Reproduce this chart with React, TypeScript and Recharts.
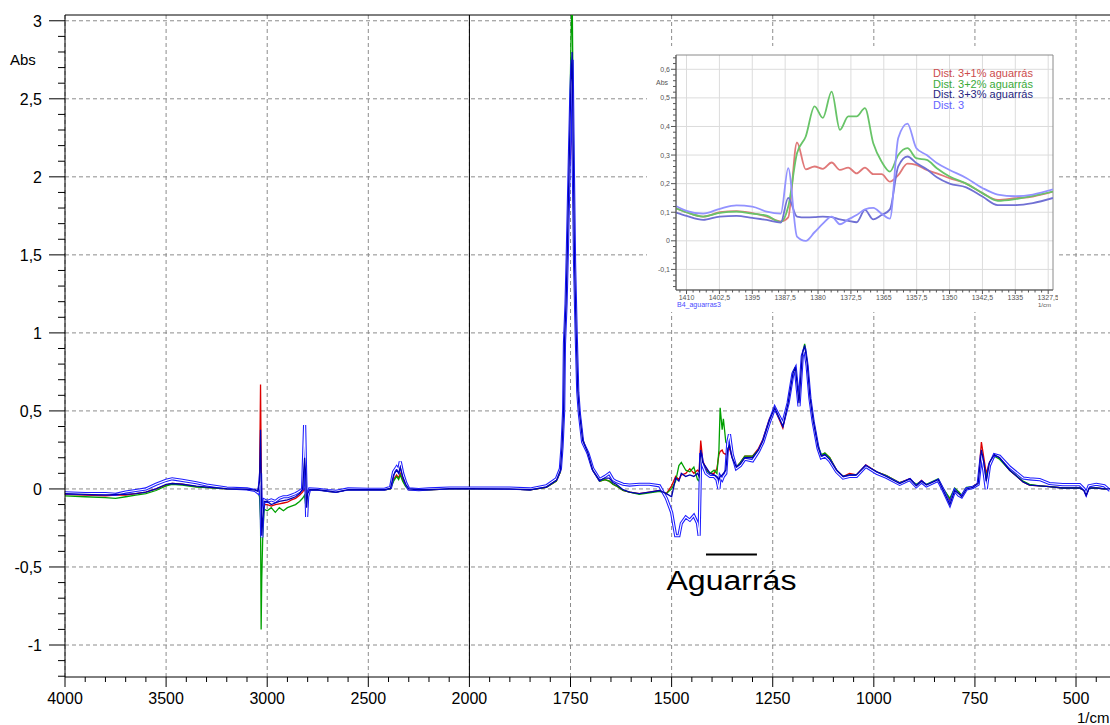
import React from 'react';
import {
  CartesianGrid,
  Line,
  LineChart,
  ReferenceArea,
  ReferenceLine,
  XAxis,
  YAxis,
} from 'recharts';

// Main FTIR spectrum, wavenumbers in 1/cm (descending)
const wavenumbers = [
  4000, 3900, 3800, 3750, 3700, 3650, 3600, 3550, 3500, 3470,
  3420, 3350, 3300, 3200, 3100, 3060, 3045, 3038, 3033, 3030,
  3027, 3022, 3015, 3000, 2980, 2960, 2940, 2920, 2900, 2880,
  2860, 2840, 2825, 2815, 2810, 2805, 2800, 2790, 2750, 2700,
  2660, 2600, 2500, 2420, 2390, 2375, 2360, 2350, 2342, 2330,
  2315, 2300, 2250, 2200, 2100, 2000, 1900, 1850, 1810, 1785,
  1775, 1771, 1767, 1765, 1761, 1758, 1753, 1749, 1746, 1743,
  1740, 1736, 1732, 1728, 1720, 1707, 1695, 1678, 1665, 1654,
  1645, 1637, 1620, 1604, 1580, 1555, 1530, 1513, 1500, 1490,
  1482, 1476, 1465, 1455, 1445, 1436, 1432, 1428, 1423, 1415,
  1405, 1395, 1388, 1383, 1380, 1375, 1372, 1366, 1361, 1357,
  1350, 1340, 1330, 1319, 1300, 1285, 1274, 1258, 1245, 1233,
  1225, 1212, 1200, 1194, 1185, 1177, 1171, 1165, 1158, 1150,
  1138, 1130, 1121, 1109, 1092, 1076, 1060, 1043, 1020, 993,
  969, 936, 911, 895, 882, 870, 841, 828, 812, 800,
  790, 783, 771, 755, 742, 734, 728, 722, 714, 702,
  689, 664, 631, 615, 590, 566, 533, 491, 480, 475,
  468, 450, 430, 416,
];

// Dist. 3+1% aguarrás
const dist3p1 = [
  -0.035, -0.04, -0.045, -0.04, -0.04, -0.03, -0.02, 0.0, 0.025, 0.035,
  0.03, 0.015, 0.01, 0.0, -0.003, -0.01, -0.02, 0.05, 0.67, 0.2,
  -0.15, -0.2, -0.1, -0.1, -0.11, -0.1, -0.095, -0.09, -0.085, -0.07,
  -0.06, -0.04, -0.02, 0.0, -0.02, -0.1, -0.02, -0.005, -0.005, -0.015,
  -0.02, -0.005, -0.005, -0.005, 0.0, 0.06, 0.09, 0.07, 0.1, 0.06,
  0.02, -0.005, -0.008, -0.005, 0.0, 0.0, 0.0, -0.005, 0.01, 0.05,
  0.11, 0.26, 0.5, 0.92, 1.18, 1.5, 2.05, 2.3, 2.2, 1.9,
  1.4, 0.98, 0.64, 0.5, 0.32, 0.22, 0.12, 0.05, 0.06, 0.05,
  0.03, 0.02, -0.01, -0.02, -0.03, -0.02, -0.01, -0.03, 0.02, 0.08,
  0.06, 0.09, 0.1, 0.13, 0.1, 0.12, 0.11, 0.31, 0.18, 0.13,
  0.1, 0.1, 0.13, 0.22, 0.24, 0.25, 0.23, 0.22, 0.25, 0.26,
  0.2, 0.14, 0.17, 0.21, 0.21, 0.26, 0.32, 0.45, 0.51, 0.44,
  0.39, 0.55, 0.74, 0.77, 0.55, 0.85, 0.91, 0.8, 0.59, 0.44,
  0.27, 0.21, 0.23, 0.2, 0.12, 0.08, 0.1, 0.09, 0.155, 0.11,
  0.085, 0.04, 0.065, 0.025, 0.055, 0.025, 0.06, 0.0, -0.07, 0.0,
  -0.02, -0.045, 0.005, 0.015, 0.04, 0.3, 0.2, 0.1, 0.17, 0.22,
  0.2, 0.12, 0.045, 0.025, 0.02, 0.015, 0.006, 0.006, -0.01, -0.04,
  0.005, 0.006, 0.0, 0.0,
];

// Dist. 3+2% aguarrás
const dist3p2 = [
  -0.045, -0.05, -0.055, -0.06, -0.05, -0.04, -0.03, -0.01, 0.02, 0.03,
  0.025, 0.012, 0.008, 0.0, -0.003, -0.01, -0.02, -0.05, -0.2, -0.9,
  -0.58, -0.3, -0.13, -0.14, -0.12, -0.15, -0.12, -0.14, -0.12, -0.11,
  -0.1, -0.08, -0.06, -0.04, -0.1, -0.06, -0.02, -0.005, -0.005, -0.015,
  -0.02, -0.005, -0.005, -0.005, 0.0, 0.05, 0.08, 0.06, 0.09, 0.05,
  0.015, -0.005, -0.008, -0.005, 0.0, 0.0, 0.0, -0.005, 0.01, 0.05,
  0.11, 0.25, 0.52, 0.95, 1.2, 1.55, 2.15, 2.85, 3.2, 2.3,
  1.5, 1.02, 0.66, 0.5, 0.32, 0.22, 0.12, 0.05, 0.06, 0.05,
  0.03, 0.02, -0.01, -0.02, -0.035, -0.025, -0.015, -0.03, 0.0, 0.05,
  0.15, 0.17, 0.12, 0.11, 0.14, 0.06, 0.05, 0.2, 0.15, 0.12,
  0.1, 0.12, 0.1, 0.25, 0.52, 0.38, 0.45, 0.3, 0.28, 0.3,
  0.21, 0.14, 0.17, 0.21, 0.21, 0.25, 0.31, 0.44, 0.51, 0.45,
  0.41, 0.56, 0.75, 0.78, 0.56, 0.86, 0.93, 0.82, 0.6, 0.45,
  0.28, 0.22, 0.23, 0.2, 0.12, 0.08, 0.09, 0.09, 0.15, 0.11,
  0.085, 0.04, 0.06, 0.03, 0.05, 0.03, 0.065, 0.0, -0.06, 0.005,
  -0.02, -0.04, 0.01, 0.015, 0.035, 0.19, 0.15, 0.08, 0.16, 0.21,
  0.19, 0.12, 0.05, 0.03, 0.02, 0.015, 0.006, 0.006, -0.01, -0.03,
  0.005, 0.006, 0.0, 0.0,
];

// Dist. 3+3% aguarrás
const dist3p3 = [
  -0.03, -0.035, -0.04, -0.035, -0.035, -0.03, -0.02, 0.0, 0.03, 0.035,
  0.03, 0.018, 0.012, 0.002, -0.002, -0.008, -0.015, 0.05, 0.38, 0.1,
  -0.3, -0.2, -0.08, -0.08, -0.1, -0.09, -0.08, -0.075, -0.07, -0.06,
  -0.05, -0.03, 0.0, 0.2, 0.1, -0.12, -0.03, -0.005, -0.005, -0.012,
  -0.02, -0.004, -0.004, -0.004, 0.005, 0.09, 0.12, 0.1, 0.14, 0.08,
  0.03, 0.0, -0.005, -0.004, 0.002, 0.002, 0.0, -0.005, 0.012, 0.055,
  0.12, 0.27, 0.51, 0.94, 1.19, 1.51, 2.13, 2.6, 2.8, 2.1,
  1.45, 1.0, 0.63, 0.49, 0.31, 0.23, 0.12, 0.055, 0.07, 0.07,
  0.04, 0.03, -0.005, -0.02, -0.03, -0.02, -0.01, -0.03, -0.05, 0.07,
  0.05, 0.1, 0.08, 0.09, 0.08, 0.1, 0.08, 0.25, 0.17, 0.14,
  0.1, 0.09, 0.08, 0.06, 0.08, 0.09, 0.1, 0.12, 0.26, 0.28,
  0.2, 0.14, 0.16, 0.2, 0.2, 0.25, 0.31, 0.44, 0.52, 0.45,
  0.4, 0.55, 0.74, 0.78, 0.55, 0.86, 0.92, 0.81, 0.59, 0.44,
  0.27, 0.21, 0.22, 0.19, 0.12, 0.08, 0.09, 0.09, 0.15, 0.11,
  0.08, 0.035, 0.065, 0.02, 0.05, 0.025, 0.06, -0.01, -0.1, -0.01,
  -0.03, -0.05, 0.0, 0.01, 0.035, 0.25, 0.17, 0.05, 0.17, 0.22,
  0.2, 0.12, 0.045, 0.025, 0.02, 0.015, 0.006, 0.006, -0.01, -0.04,
  0.005, 0.006, 0.0, 0.0,
];

// Dist. 3
const dist3 = [
  -0.025, -0.03, -0.03, -0.035, -0.02, -0.01, 0.0, 0.03, 0.055, 0.065,
  0.055, 0.04, 0.025, 0.006, 0.0, -0.01, -0.025, 0.02, 0.1, -0.1,
  -0.31, -0.15, -0.07, -0.08, -0.07, -0.08, -0.06, -0.05, -0.05, -0.04,
  -0.03, -0.015, 0.0, 0.41, 0.1, -0.18, -0.05, 0.0, -0.002, -0.01,
  -0.015, 0.0, -0.002, -0.002, 0.01, 0.11, 0.14, 0.12, 0.175, 0.1,
  0.04, 0.0, -0.004, 0.0, 0.006, 0.006, 0.005, 0.0, 0.02, 0.065,
  0.13, 0.27, 0.5, 0.93, 1.19, 1.5, 2.1, 2.55, 2.75, 2.05,
  1.45, 1.0, 0.62, 0.48, 0.3, 0.23, 0.13, 0.06, 0.08, 0.1,
  0.06, 0.047, 0.03, 0.025, 0.03, 0.03, 0.02, -0.06, -0.15, -0.3,
  -0.3, -0.22, -0.18, -0.2, -0.17, -0.22, -0.3, 0.23, 0.15, 0.1,
  0.08, 0.08, 0.06, 0.0, 0.08, 0.06, 0.08, 0.1, 0.3, 0.35,
  0.22, 0.13, 0.15, 0.19, 0.18, 0.24, 0.3, 0.43, 0.52, 0.46,
  0.42, 0.55, 0.74, 0.77, 0.53, 0.85, 0.9, 0.79, 0.58, 0.43,
  0.26, 0.2, 0.21, 0.18, 0.11, 0.07, 0.08, 0.08, 0.145, 0.1,
  0.075, 0.03, 0.06, 0.015, 0.045, 0.02, 0.055, -0.01, -0.1, -0.01,
  -0.04, -0.05, 0.0, 0.01, 0.03, 0.22, 0.12, 0.0, 0.15, 0.22,
  0.21, 0.14, 0.07, 0.065, 0.06, 0.035, 0.028, 0.028, 0.0, -0.03,
  0.02, 0.03, 0.02, -0.01,
];

const xTickLabels = [4000, 3500, 3000, 2500, 2000, 1750, 1500, 1250, 1000, 750, 500];
const yTickLabels = [-1, -0.5, 0, 0.5, 1, 1.5, 2, 2.5, 3];

// Inset: zoom on 1412-1326 1/cm
const insetWavenumbers = [
  1412.4, 1410, 1406.2, 1402.4, 1398.6, 1395, 1391.7, 1388.5, 1386.8, 1384.8,
  1382.8, 1380.8, 1378.9, 1376.9, 1375, 1373.1, 1371.2, 1369.3, 1367.4, 1365.5,
  1363.6, 1361.7, 1359.6, 1357.6, 1355.2, 1352.9, 1350, 1346.2, 1342.5, 1339,
  1335, 1331, 1326.4,
];
const insetP1 = [
  0.114, 0.1, 0.085, 0.1, 0.104, 0.097, 0.085, 0.068, 0.082, 0.344,
  0.25, 0.26, 0.252, 0.274, 0.248, 0.256, 0.236, 0.256, 0.233, 0.233,
  0.207, 0.23, 0.27, 0.266, 0.248, 0.236, 0.219, 0.2, 0.167, 0.143,
  0.149, 0.155, 0.172,
];
const insetP2 = [
  0.114, 0.1, 0.085, 0.098, 0.102, 0.095, 0.088, 0.066, 0.12, 0.306,
  0.365, 0.47, 0.43, 0.522, 0.388, 0.435, 0.435, 0.464, 0.341, 0.277,
  0.242, 0.3, 0.324, 0.289, 0.283, 0.254, 0.225, 0.2, 0.167, 0.14,
  0.146, 0.157, 0.172,
];
const insetP3 = [
  0.099, 0.087, 0.073, 0.085, 0.087, 0.08, 0.073, 0.064, 0.15, 0.085,
  0.082, 0.083, 0.085, 0.083, 0.075, 0.07, 0.065, 0.108, 0.075, 0.09,
  0.11, 0.26, 0.295, 0.272, 0.25, 0.222, 0.2, 0.187, 0.155, 0.125,
  0.125, 0.132, 0.15,
];
const insetD3 = [
  0.122, 0.105, 0.095, 0.112, 0.124, 0.12, 0.102, 0.095, 0.254, 0.015,
  0.0, 0.03, 0.06, 0.085, 0.058, 0.075, 0.09, 0.11, 0.115, 0.095,
  0.078, 0.36, 0.41, 0.325, 0.3, 0.272, 0.248, 0.22, 0.185, 0.162,
  0.156, 0.162, 0.18,
];
const insetXLabels = [1410, 1402.5, 1395, 1387.5, 1380, 1372.5, 1365, 1357.5, 1350, 1342.5, 1335, 1327.5];
const insetYLabels = [-0.1, 0, 0.1, 0.2, 0.3, 0.4, 0.5, 0.6];

const insetSeries = [
  { key: 'r', name: 'Dist. 3+1% aguarrás', line: '#e07878', text: '#cc4c4c' },
  { key: 'g', name: 'Dist. 3+2% aguarrás', line: '#68c468', text: '#3aaa3a' },
  { key: 'n', name: 'Dist. 3+3% aguarrás', line: '#7070d4', text: '#262680' },
  { key: 'b', name: 'Dist. 3', line: '#9292ff', text: '#6464ff' },
];

const FONT = '"Liberation Sans", Arial, Helvetica, sans-serif';

// the instrument draws 4000-2000 at half the scale of 2000-400
function toAxis(wn: number) {
  return wn >= 2000 ? 4000 - wn : 2000 + (2000 - wn) * 2;
}

const X_MAX = toAxis(416);
const Y_MIN = -1.205;
const Y_MAX = 3.037;

const xMajorU = xTickLabels.map(toAxis);
const xTicks = Array.from({ length: 52 }, (_, i) => i * 100);
const yTicks = Array.from({ length: 43 }, (_, i) => (i - 12) / 10);

const mainRows = wavenumbers.map((wn, i) => ({
  u: toAxis(wn),
  r: dist3p1[i],
  g: dist3p2[i],
  n: dist3p3[i],
  b: dist3[i],
}));

const insetRows = insetWavenumbers.map((wn, i) => ({
  wn,
  r: insetP1[i],
  g: insetP2[i],
  n: insetP3[i],
  b: insetD3[i],
}));

const INSET_X: [number, number] = [1326.4, 1412.4];
const INSET_Y: [number, number] = [-0.172, 0.65];
const insetXTicks = Array.from({ length: 57 }, (_, i) => 1327.5 + i * 1.5);
const insetYTicks = Array.from({ length: 41 }, (_, i) => Math.round((-0.16 + i * 0.02) * 100) / 100);

const comma = (v: number) => String(v).replace('.', ',');

function MainXTick({ x, y, payload }: any) {
  const i = xMajorU.indexOf(payload.value);
  return (
    <g>
      <line x1={x} x2={x} y1={y} y2={y + (i >= 0 ? 10 : 5)} stroke="#000" />
      {i >= 0 && (
        <text x={x} y={y + 27} textAnchor="middle" fontSize={16} fontFamily={FONT} fill="#000">
          {xTickLabels[i]}
        </text>
      )}
    </g>
  );
}

function MainYTick({ x, y, payload }: any) {
  const i = yTickLabels.findIndex((t) => Math.abs(t - payload.value) < 1e-9);
  return (
    <g>
      <line x1={x - (i >= 0 ? 16 : 7)} x2={x} y1={y} y2={y} stroke="#000" />
      {i >= 0 && (
        <text x={x - 23} y={y} dy="0.36em" textAnchor="end" fontSize={16} fontFamily={FONT} fill="#000">
          {comma(yTickLabels[i])}
        </text>
      )}
    </g>
  );
}

function InsetXTick({ x, y, payload }: any) {
  const i = insetXLabels.indexOf(payload.value);
  return (
    <g>
      <line x1={x} x2={x} y1={y} y2={y + (i >= 0 ? 4 : 2.5)} stroke="#555" />
      {i >= 0 && (
        <text x={x} y={y + 10} textAnchor="middle" fontSize={7} fontFamily={FONT} fill="#555">
          {comma(insetXLabels[i])}
        </text>
      )}
    </g>
  );
}

function InsetYTick({ x, y, payload }: any) {
  const i = insetYLabels.findIndex((t) => Math.abs(t - payload.value) < 1e-9);
  return (
    <g>
      <line x1={x - (i >= 0 ? 5 : 3)} x2={x} y1={y} y2={y} stroke="#555" />
      {i >= 0 && (
        <text x={x - 6} y={y} dy="0.36em" textAnchor="end" fontSize={7} fontFamily={FONT} fill="#555">
          {comma(insetYLabels[i])}
        </text>
      )}
    </g>
  );
}

function AguarrasLabel({ viewBox }: any) {
  if (!viewBox) return null;
  const cx = viewBox.x + viewBox.width / 2;
  return (
    <text
      x={cx}
      y={viewBox.y + 36}
      textAnchor="middle"
      fontSize={27}
      fontFamily={FONT}
      fill="#000"
      textLength={130}
      lengthAdjust="spacingAndGlyphs"
    >
      Aguarrás
    </text>
  );
}

function Inset() {
  return (
    <div
      style={{ position: 'absolute', left: 647, top: 46, width: 411, height: 266, background: '#fff' }}
    >
      <LineChart width={411} height={266} data={insetRows} margin={{ top: 9, right: 5, bottom: 0, left: 0 }}>
        <CartesianGrid stroke="#dcdcdc" horizontalValues={insetYLabels} verticalValues={insetXLabels} />
        <XAxis
          type="number"
          dataKey="wn"
          reversed
          domain={INSET_X}
          ticks={insetXTicks}
          interval={0}
          height={22}
          tickSize={0}
          tickMargin={0}
          tickLine={false}
          axisLine={{ stroke: '#555' }}
          tick={(p: any) => <InsetXTick {...p} />}
          allowDataOverflow
        />
        <YAxis
          type="number"
          domain={INSET_Y}
          ticks={insetYTicks}
          interval={0}
          width={29}
          tickSize={0}
          tickMargin={0}
          tickLine={false}
          axisLine={{ stroke: '#555' }}
          tick={(p: any) => <InsetYTick {...p} />}
          allowDataOverflow
        />
        <ReferenceArea x1={INSET_X[0]} x2={INSET_X[1]} y1={INSET_Y[0]} y2={INSET_Y[1]} fill="none" stroke="#8a8a8a" />
        {insetSeries.map((s) => (
          <Line
            key={s.key}
            type="monotone"
            dataKey={s.key}
            name={s.name}
            stroke={s.line}
            strokeWidth={1.8}
            dot={false}
            isAnimationActive={false}
          />
        ))}
      </LineChart>
      <div style={{ position: 'absolute', left: 286, top: 22, fontFamily: FONT, fontSize: 11, lineHeight: '10.7px' }}>
        {insetSeries.map((s) => (
          <div key={s.key} style={{ color: s.text, whiteSpace: 'nowrap' }}>
            {s.name}
          </div>
        ))}
      </div>
      <div style={{ position: 'absolute', left: 9, top: 33, fontFamily: FONT, fontSize: 7, color: '#555' }}>Abs</div>
      <div style={{ position: 'absolute', left: 30, top: 255, fontFamily: FONT, fontSize: 7, color: '#4a4aff' }}>
        B4_aguarras3
      </div>
      <div style={{ position: 'absolute', left: 391, top: 256, fontFamily: FONT, fontSize: 6, color: '#555' }}>1/cm</div>
    </div>
  );
}

export default function App() {
  return (
    <div style={{ position: 'absolute', left: 0, top: 0, width: 1110, height: 725, background: '#fff', overflow: 'hidden' }}>
      <LineChart width={1110} height={725} data={mainRows} margin={{ top: 15, right: 0, bottom: 0, left: 0 }}>
        <CartesianGrid
          stroke="#8c8c8c"
          strokeDasharray="4 3"
          horizontalValues={yTickLabels}
          verticalValues={xMajorU}
        />
        <XAxis
          type="number"
          dataKey="u"
          domain={[0, X_MAX]}
          ticks={xTicks}
          interval={0}
          height={48}
          tickSize={0}
          tickMargin={0}
          tickLine={false}
          axisLine={{ stroke: '#000' }}
          tick={(p: any) => <MainXTick {...p} />}
          allowDataOverflow
        />
        <YAxis
          type="number"
          domain={[Y_MIN, Y_MAX]}
          ticks={yTicks}
          interval={0}
          width={65}
          tickSize={0}
          tickMargin={0}
          tickLine={false}
          axisLine={{ stroke: '#000' }}
          tick={(p: any) => <MainYTick {...p} />}
          allowDataOverflow
        />
        <ReferenceLine y={Y_MAX} stroke="#000" />
        <ReferenceLine x={2000} stroke="#000" />
        <Line type="linear" dataKey="r" stroke="#dd0000" strokeWidth={1.3} dot={false} isAnimationActive={false} />
        <Line type="linear" dataKey="g" stroke="#00a000" strokeWidth={1.3} dot={false} isAnimationActive={false} />
        {/* Dist. 3 is drawn hollow: blue outline with a white core */}
        <Line type="linear" dataKey="b" stroke="#1c1cff" strokeWidth={3.2} dot={false} isAnimationActive={false} />
        <Line type="linear" dataKey="b" stroke="#ffffff" strokeWidth={1.1} dot={false} isAnimationActive={false} />
        <Line type="linear" dataKey="n" stroke="#0000b0" strokeWidth={1.3} dot={false} isAnimationActive={false} />
        <ReferenceLine
          segment={[
            { x: toAxis(1415), y: -0.42 },
            { x: toAxis(1289), y: -0.42 },
          ]}
          stroke="#000"
          strokeWidth={2}
          label={(p: any) => <AguarrasLabel {...p} />}
        />
      </LineChart>
      <div style={{ position: 'absolute', left: 10, top: 52, fontFamily: FONT, fontSize: 15, lineHeight: '15px' }}>Abs</div>
      <div style={{ position: 'absolute', left: 1077, top: 710, fontFamily: FONT, fontSize: 15, lineHeight: '15px' }}>
        1/cm
      </div>
      <Inset />
    </div>
  );
}
